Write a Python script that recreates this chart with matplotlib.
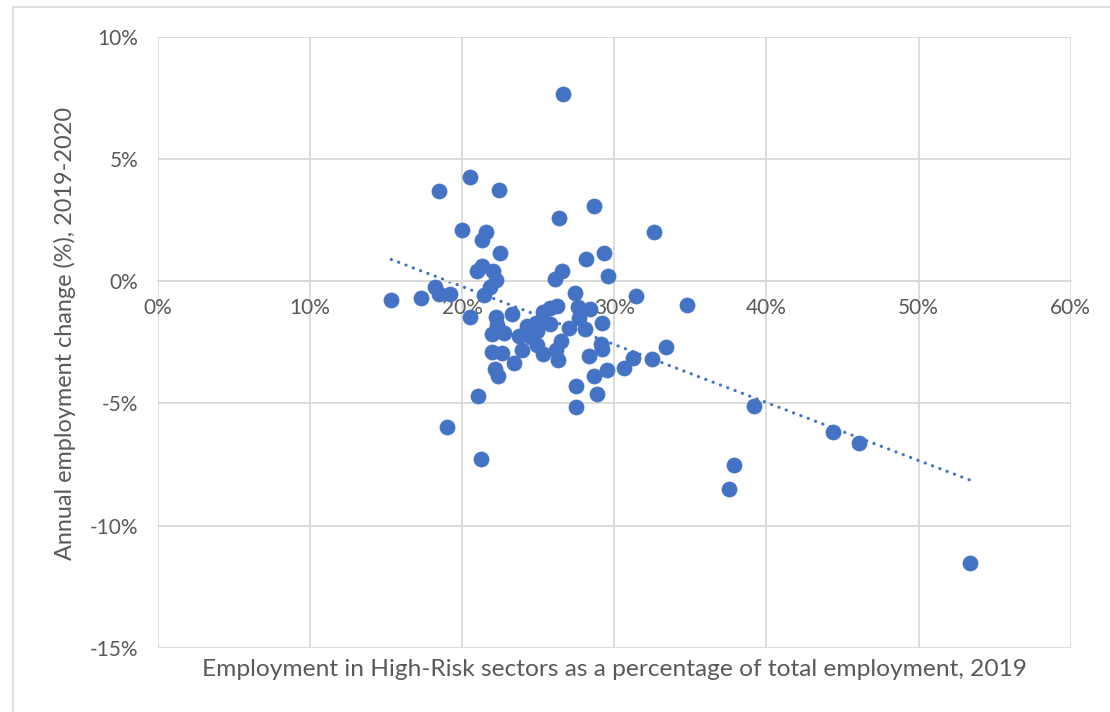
import matplotlib
matplotlib.use('Agg')
import matplotlib.pyplot as plt
from matplotlib.patches import Rectangle
from matplotlib.ticker import FuncFormatter
import numpy as np

# share of employment in high-risk sectors (%), 2019
high_risk_share = [
    26.65, 20.5, 18.5, 22.4, 28.7, 26.35, 20.0, 21.55, 21.3, 32.6,
    22.5, 29.3, 28.15, 26.6, 26.1, 29.6, 21.3, 21.0, 22.05, 22.2,
    21.85, 21.45, 18.25, 18.5, 19.2, 15.35, 17.3, 27.45, 31.45, 34.8,
    20.5, 22.2, 23.3, 22.3, 21.94, 22.77, 21.94, 22.62, 22.16, 22.38,
    23.43, 23.93, 23.77, 24.3, 24.85, 24.95, 24.5, 25.34, 25.78, 26.25,
    25.76, 24.9, 25.35, 26.32, 26.53, 26.2, 27.0, 27.6, 28.42, 27.68,
    28.08, 29.23, 29.12, 29.22, 28.36, 29.5, 28.64, 27.48, 28.9, 27.52,
    30.62, 31.26, 32.48, 33.4, 21.07, 19.0, 21.24, 39.2, 44.35, 46.1,
    37.9, 37.55, 53.37,
]
# annual employment change (%), 2019-2020
emp_change = [
    7.67, 4.28, 3.68, 3.75, 3.09, 2.60, 2.10, 2.03, 1.69, 2.03,
    1.14, 1.17, 0.89, 0.40, 0.10, 0.20, 0.61, 0.41, 0.41, 0.03,
    -0.22, -0.58, -0.25, -0.54, -0.52, -0.77, -0.69, -0.48, -0.61, -0.97,
    -1.47, -1.45, -1.33, -1.80, -2.15, -2.10, -2.88, -2.92, -3.59, -3.86,
    -3.34, -2.82, -2.22, -1.85, -1.70, -2.05, -2.30, -1.27, -1.08, -1.00,
    -1.74, -2.60, -2.98, -3.24, -2.45, -2.80, -1.92, -1.05, -1.12, -1.52,
    -1.97, -1.72, -2.56, -2.77, -3.06, -3.64, -3.89, -4.27, -4.61, -5.14,
    -3.55, -3.15, -3.20, -2.67, -4.69, -5.98, -7.29, -5.10, -6.18, -6.62,
    -7.51, -8.50, -11.54,
]

x_ticks = [0, 10, 20, 30, 40, 50, 60]
y_ticks = [-15, -10, -5, 0, 5, 10]

blue = '#4472C4'
grid_col = '#d9d9d9'
text_col = '#595959'

plt.rcParams['font.family'] = ['Lato', 'DejaVu Sans']

fig = plt.figure(figsize=(11.1, 7.12), dpi=100)
ax = fig.add_axes([157.7 / 1110, 1 - 648 / 712, 913 / 1110, (648 - 36.7) / 712])

# chart outer border (only top and left visible in the crop)
fig.add_artist(Rectangle((13 / 1110, -0.1), 1.0, 1.1 - 7.3 / 712,
                         transform=fig.transFigure, fill=False,
                         edgecolor=grid_col, linewidth=1.2))

x = np.array(high_risk_share)
y = np.array(emp_change)

ax.scatter(x, y, s=118, color=blue, edgecolors=blue, linewidths=0.5, zorder=3)

# linear trendline
slope, intercept = np.polyfit(x, y, 1)
tx = np.array([x.min(), x.max()])
ax.plot(tx, slope * tx + intercept, color=blue, linewidth=2.3,
        linestyle=(0, (0.05, 2.4)), dash_capstyle='round', zorder=2)

ax.set_xlim(0, 60)
ax.set_ylim(-15, 10)
ax.set_xticks(x_ticks)
ax.set_yticks(y_ticks)
pct = FuncFormatter(lambda v, p: '%d%%' % v)
ax.xaxis.set_major_formatter(pct)
ax.yaxis.set_major_formatter(pct)

ax.grid(True, color=grid_col, linewidth=1.3, zorder=0)
ax.set_axisbelow(True)
for s in ['top', 'right', 'left']:
    ax.spines[s].set_visible(False)
ax.spines['bottom'].set_position(('data', 0))
ax.spines['bottom'].set_color(grid_col)
ax.spines['bottom'].set_linewidth(1.3)

ax.tick_params(axis='both', length=0, labelsize=15, labelcolor=text_col)
ax.tick_params(axis='x', pad=12)
ax.tick_params(axis='y', pad=14)

xt = fig.text(614 / 1110, 1 - 670 / 712,
              'Employment in High-Risk sectors as a percentage of total employment, 2019',
              ha='center', va='center', fontsize=16.5, color=text_col)
yt = fig.text(65 / 1110, 1 - 333 / 712, 'Annual employment change (%), 2019-2020',
              ha='center', va='center', rotation=90, fontsize=16.5, color=text_col)

# Lato is wider than the Calibri of the original, so size the titles to the same span
fig.canvas.draw()
r = fig.canvas.get_renderer()
w = xt.get_window_extent(r).width
xt.set_fontsize(16.5 * 824 / w)
h = yt.get_window_extent(r).height
yt.set_fontsize(16.5 * 454 / h)

fig.savefig('out.png', dpi=100, facecolor='white')
